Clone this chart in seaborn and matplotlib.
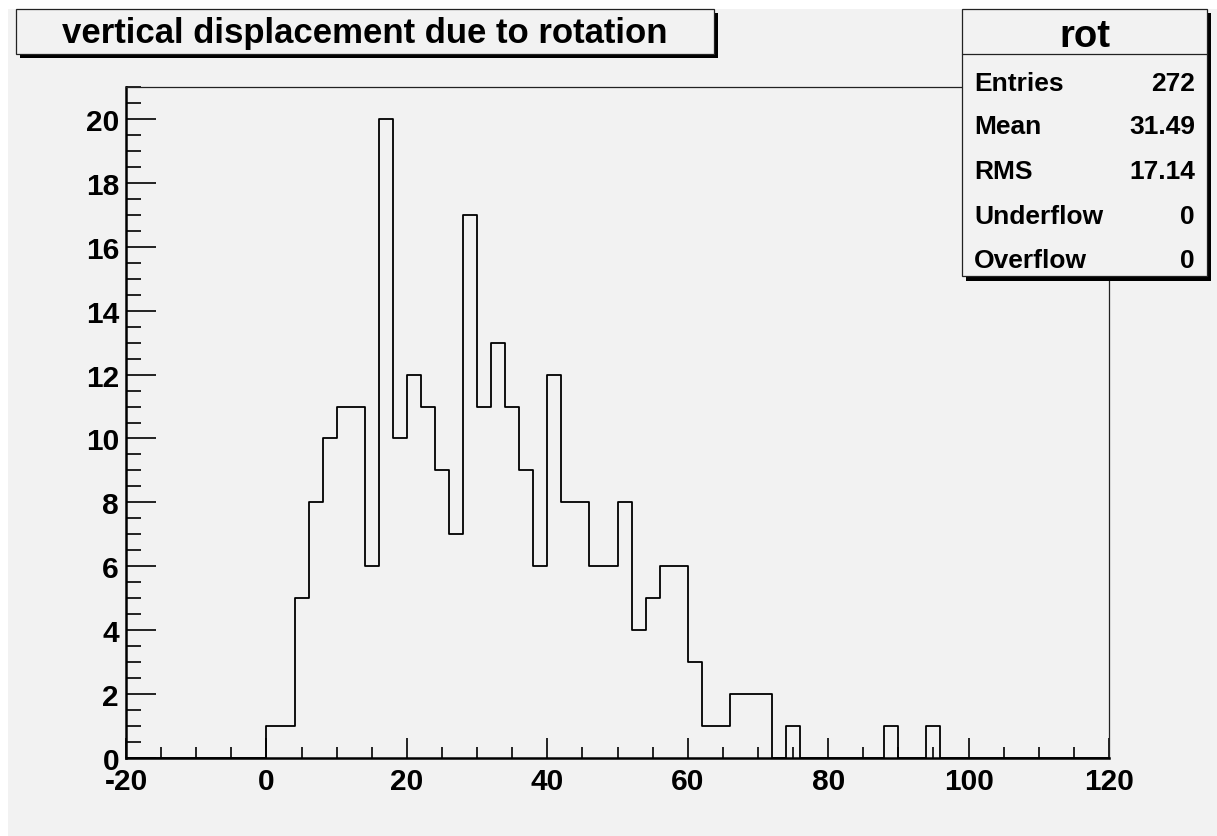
import numpy as np
import pandas as pd
import matplotlib
matplotlib.use("Agg")
import matplotlib.pyplot as plt
from matplotlib.patches import Rectangle
from matplotlib.ticker import MultipleLocator, FixedLocator
import seaborn as sns

# ---------------- data ----------------
bin_width = 2
bin_low = list(range(-20, 120, 2))
counts = [0, 0, 0, 0, 0, 0, 0, 0, 0, 0,
          1, 1, 5, 8, 10, 11, 11, 6,
          20, 10, 12, 11, 9, 7, 17, 11,
          13, 11, 9, 6, 12, 8, 8, 6,
          6, 8, 4, 5, 6, 6, 3, 1,
          1, 2, 2, 2, 0, 1, 0, 0,
          0, 0, 0, 0, 1, 0, 0, 1,
          0, 0, 0, 0, 0, 0, 0, 0, 0, 0, 0, 0]
title_text = "vertical displacement due to rotation"
stats_name = "rot"
stat_labels = ["Entries", "Mean", "RMS", "Underflow", "Overflow"]
stat_values = ["272", "31.49", "17.14", "0", "0"]
x_ticks = [-20, 0, 20, 40, 60, 80, 100, 120]
y_ticks = [0, 2, 4, 6, 8, 10, 12, 14, 16, 18, 20]

# ---------------- style ----------------
sns.set_style("ticks")
plt.rcParams['font.family'] = ['Liberation Sans', 'DejaVu Sans']
plt.rcParams['axes.unicode_minus'] = False
plt.rcParams['text.color'] = 'black'
plt.rcParams['xtick.color'] = 'black'
plt.rcParams['ytick.color'] = 'black'
plt.rcParams['xtick.labelcolor'] = 'black'
plt.rcParams['ytick.labelcolor'] = 'black'
GREY = "#f2f2f2"
W, H = 1217, 837

fig = plt.figure(figsize=(W / 100, H / 100), dpi=100)
fig.patch.set_facecolor("white")


def fx(x):
    return x / W


def fy(y):
    return 1 - y / H


def prect(x0, y0, x1, y1, **kw):
    r = Rectangle((fx(x0), fy(y1)), fx(x1) - fx(x0), fy(y0) - fy(y1),
                  transform=fig.transFigure, **kw)
    fig.add_artist(r)
    return r


# canvas background
prect(8, 10, W, H, facecolor=GREY, edgecolor="none", zorder=-5)

# axes
ax_l, ax_r, ax_t, ax_b = 126, 1109, 88, 759
ax = fig.add_axes([fx(ax_l), fy(ax_b), fx(ax_r) - fx(ax_l), fy(ax_t) - fy(ax_b)])
ax.set_facecolor("none")

df = pd.DataFrame({"x": np.array(bin_low) + bin_width / 2, "w": counts})
edges = bin_low + [bin_low[-1] + bin_width]
sns.histplot(data=df, x="x", weights="w", bins=edges, element="step",
             fill=False, color="black", linewidth=1.3, ax=ax)

ax.set_xlim(-20, 120)
ax.set_ylim(0, 21)
ax.set_xlabel("")
ax.set_ylabel("")

ax.xaxis.set_major_locator(FixedLocator(x_ticks))
ax.xaxis.set_minor_locator(MultipleLocator(5))
ax.yaxis.set_major_locator(FixedLocator(y_ticks))
ax.yaxis.set_minor_locator(MultipleLocator(0.5))

ax.tick_params(axis='y', which='major', direction='in', length=21.6, width=1.2,
               pad=5, labelsize=21.5, color="black", labelcolor="black")
ax.tick_params(axis='y', which='minor', direction='in', length=10.8, width=1.2, color="black")
ax.tick_params(axis='x', which='major', direction='in', length=14.4, width=1.2,
               pad=6.5, labelsize=21.5, color="black", labelcolor="black")
ax.tick_params(axis='x', which='minor', direction='in', length=7.6, width=1.2, color="black")
ax.tick_params(top=False, right=False, which='both')
for lab in ax.get_xticklabels() + ax.get_yticklabels():
    lab.set_fontweight("bold")

for side in ["left", "bottom"]:
    ax.spines[side].set_linewidth(1.8)
    ax.spines[side].set_color("black")
for side in ["top", "right"]:
    ax.spines[side].set_linewidth(0.9)
    ax.spines[side].set_color("#222222")
    ax.spines[side].set_visible(True)

# title box
prect(20, 14, 718, 59, facecolor="black", edgecolor="none", zorder=4)
prect(16, 10, 714, 55, facecolor=GREY, edgecolor="#222222", linewidth=0.9, zorder=5)
fig.text(fx(365), fy(43.3), title_text, ha="center", va="baseline",
         fontsize=25, fontweight="bold", color="black", zorder=6)

# stats box
sx0, sy0, sx1, sy1 = 962, 10, 1207, 277
prect(sx0 + 4, sy0 + 4, sx1 + 4, sy1 + 5, facecolor="black", edgecolor="none", zorder=4)
prect(sx0, sy0, sx1, sy1, facecolor=GREY, edgecolor="#222222", linewidth=0.9, zorder=5)
fig.add_artist(plt.Line2D([fx(sx0), fx(sx1)], [fy(55), fy(55)], transform=fig.transFigure,
                          color="#222222", linewidth=0.9, zorder=6))
fig.text(fx((sx0 + sx1) / 2), fy(46.7), stats_name, ha="center", va="baseline",
         fontsize=27.5, fontweight="bold", color="black", zorder=7)
row_base = [91, 134, 179, 224.5, 267.5]
for lab, val, yb in zip(stat_labels, stat_values, row_base):
    fig.text(fx(974), fy(yb), lab, ha="left", va="baseline", fontsize=19,
             fontweight="bold", color="black", zorder=7)
    fig.text(fx(1195), fy(yb), val, ha="right", va="baseline", fontsize=19,
             fontweight="bold", color="black", zorder=7)

fig.savefig("out.png", dpi=100, facecolor=fig.get_facecolor())
